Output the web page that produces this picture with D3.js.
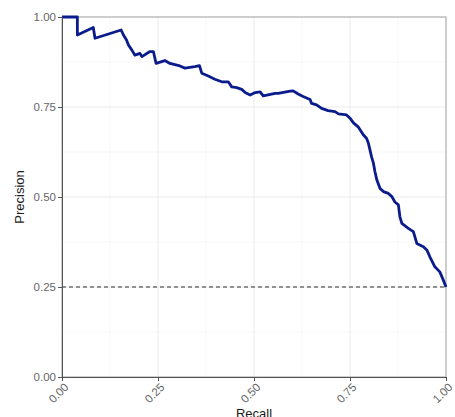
<html lang="en">
<head>
  <meta charset="UTF-8"/>
  <title>Precision-recall curve</title>
  <script src="https://d3js.org/d3.v7.min.js"></script>
  <style>
    body { margin: 0; background: #fff; }
    svg { display: block; font-family: "Liberation Sans", Arial, sans-serif; }
    .grid-major line { stroke: #ebebeb; stroke-width: 1; }
    .grid-minor line { stroke: #f2f2f2; stroke-width: 0.6; }
    .axis text { fill: #666; font-size: 11.5px; }
    .axis line, .axis path { stroke: #555; }
    .label { fill: #1a1a1a; font-size: 13px; }
  </style>
</head>
<body>
  <svg width="455" height="417"></svg>

  <script>

  // precision-recall curve
  const recall = [
    0, 0.040, 0.040, 0.0815, 0.086, 0.154, 0.160, 0.168, 0.173, 0.182, 0.190, 0.203, 0.208,
    0.229, 0.238, 0.245, 0.268, 0.281, 0.307, 0.320, 0.346, 0.358, 0.364, 0.381, 0.398,
    0.416, 0.433, 0.442, 0.455, 0.468, 0.477, 0.490, 0.503, 0.516, 0.524, 0.555, 0.563,
    0.594, 0.602, 0.615, 0.628, 0.646, 0.650, 0.663, 0.676, 0.693, 0.711, 0.720, 0.741,
    0.750, 0.759, 0.772, 0.785, 0.793, 0.798, 0.802, 0.806, 0.811, 0.815, 0.820, 0.828,
    0.837, 0.850, 0.859, 0.867, 0.876, 0.880, 0.885, 0.902, 0.915, 0.924, 0.941, 0.950,
    0.958, 0.971, 0.984, 0.993, 1.0
  ];
  const precision = [
    1.0, 1.0, 0.950, 0.971, 0.941, 0.964, 0.950, 0.936, 0.922, 0.908, 0.894, 0.899, 0.890,
    0.904, 0.904, 0.871, 0.879, 0.871, 0.864, 0.858, 0.862, 0.865, 0.844, 0.836, 0.827,
    0.820, 0.820, 0.806, 0.804, 0.799, 0.790, 0.783, 0.790, 0.792, 0.781, 0.788, 0.788,
    0.794, 0.795, 0.786, 0.779, 0.771, 0.760, 0.756, 0.746, 0.740, 0.737, 0.731, 0.728,
    0.719, 0.706, 0.694, 0.672, 0.663, 0.649, 0.631, 0.612, 0.594, 0.570, 0.547, 0.524,
    0.515, 0.510, 0.501, 0.486, 0.478, 0.445, 0.427, 0.413, 0.404, 0.371, 0.362, 0.353,
    0.334, 0.306, 0.292, 0.269, 0.25
  ];
  const baseline = 0.25;
  const ticks = [0, 0.25, 0.5, 0.75, 1];
  const minorTicks = [0.125, 0.375, 0.625, 0.875];

  const svg = d3.select('svg');
  const pLeft = 62, pRight = 446, pTop = 17, pBottom = 377;

  const x = d3.scaleLinear().domain([0, 1]).range([pLeft, pRight]);
  const y = d3.scaleLinear().domain([0, 1]).range([pBottom, pTop]);

  // grid
  const gMinor = svg.append('g').attr('class', 'grid-minor');
  gMinor.selectAll('.vx').data(minorTicks).enter().append('line')
    .attr('x1', d => x(d)).attr('x2', d => x(d)).attr('y1', pTop).attr('y2', pBottom);
  gMinor.selectAll('.hy').data(minorTicks).enter().append('line')
    .attr('y1', d => y(d)).attr('y2', d => y(d)).attr('x1', pLeft).attr('x2', pRight);

  const gMajor = svg.append('g').attr('class', 'grid-major');
  gMajor.selectAll('.vx').data(ticks).enter().append('line')
    .attr('x1', d => x(d)).attr('x2', d => x(d)).attr('y1', pTop).attr('y2', pBottom);
  gMajor.selectAll('.hy').data(ticks).enter().append('line')
    .attr('y1', d => y(d)).attr('y2', d => y(d)).attr('x1', pLeft).attr('x2', pRight);

  // panel border
  svg.append('rect')
    .attr('x', pLeft).attr('y', pTop)
    .attr('width', pRight - pLeft).attr('height', pBottom - pTop)
    .attr('fill', 'none').attr('stroke', '#a6a6a6').attr('stroke-width', 1);

  // baseline
  svg.append('line')
    .attr('x1', x(0)).attr('x2', x(1))
    .attr('y1', y(baseline)).attr('y2', y(baseline))
    .attr('stroke', '#707070').attr('stroke-width', 1.3)
    .attr('stroke-dasharray', '4,3');

  // curve
  const pts = recall.map((r, i) => [r, precision[i]]);
  svg.append('path')
    .datum(pts)
    .attr('fill', 'none')
    .attr('stroke', '#0a1c8c')
    .attr('stroke-width', 2.8)
    .attr('stroke-linejoin', 'round')
    .attr('d', d3.line().x(d => x(d[0])).y(d => y(d[1])));

  // axes
  const fmt = d3.format('.2f');
  svg.append('g')
    .attr('class', 'axis')
    .attr('transform', `translate(${pLeft}, 0)`)
    .call(d3.axisLeft(y).tickValues(ticks).tickFormat(fmt).tickSize(4).tickSizeOuter(0).tickPadding(2));

  const xAxis = svg.append('g')
    .attr('class', 'axis')
    .attr('transform', `translate(0, ${pBottom})`)
    .call(d3.axisBottom(x).tickValues(ticks).tickFormat(fmt).tickSize(4).tickSizeOuter(0));

  xAxis.selectAll('.tick text')
    .attr('text-anchor', 'end')
    .attr('x', 0).attr('y', 0)
    .attr('dy', '0.35em')
    .attr('transform', 'translate(4, 8) rotate(-45)');

  svg.append('text')
    .attr('class', 'label')
    .attr('x', x(0.5))
    .attr('y', 418)
    .attr('text-anchor', 'middle')
    .text('Recall');

  svg.append('text')
    .attr('class', 'label')
    .attr('transform', `translate(24, ${(pTop + pBottom) / 2}) rotate(-90)`)
    .attr('text-anchor', 'middle')
    .text('Precision');

  </script>
</body>
</html>
